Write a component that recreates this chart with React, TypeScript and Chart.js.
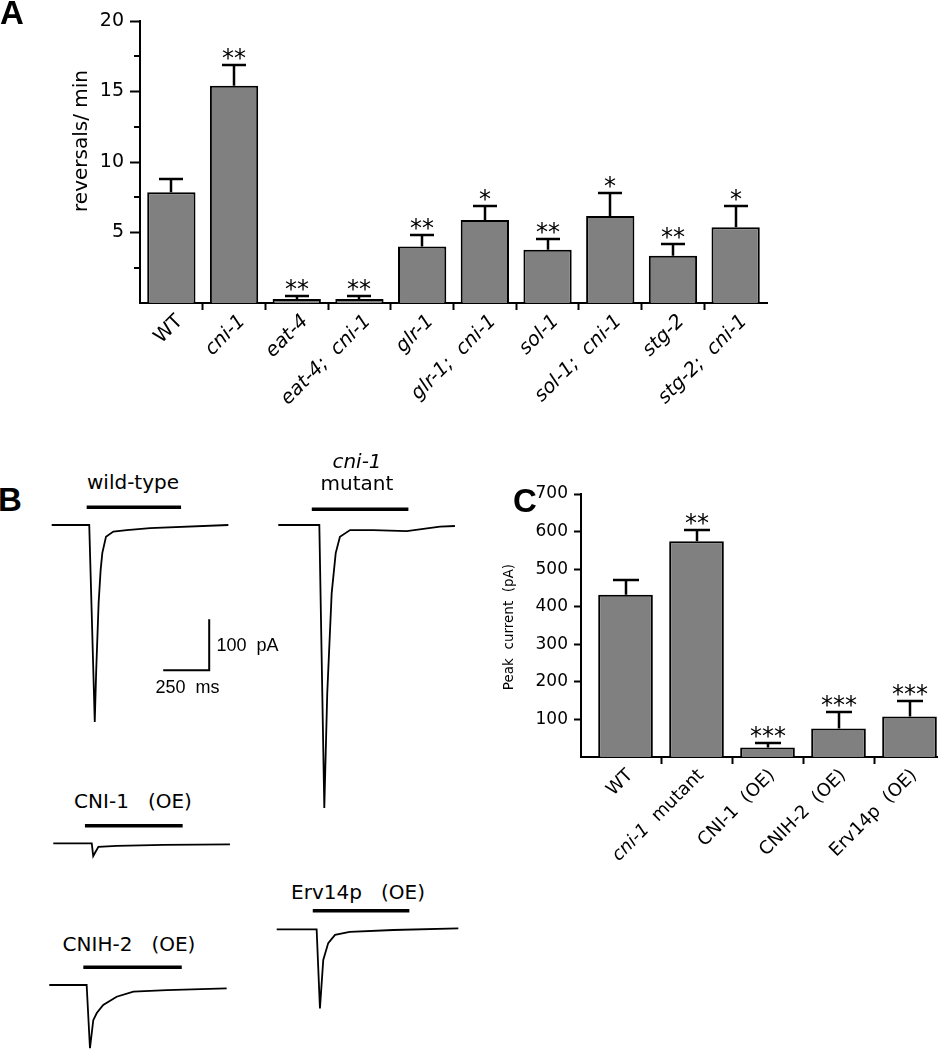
import React, { useEffect, useRef } from 'react';
import { Chart, registerables } from 'chart.js';

Chart.register(...registerables);

const SANS = '"DejaVu Sans", "Liberation Sans", Arial, sans-serif';
const HELV = '"Liberation Sans", Arial, Helvetica, sans-serif';
const BLACK = '#000000';
const BAR_GRAY = '#808080';
const CLEAR = 'rgba(0,0,0,0)';

// ---------------- Panel A: reversals / min ----------------
const A_LABELS = ['WT', 'cni-1', 'eat-4', 'eat-4;  cni-1', 'glr-1', 'glr-1;  cni-1', 'sol-1', 'sol-1;  cni-1', 'stg-2', 'stg-2;  cni-1'];
const A_LABEL_ITALIC = [false, true, true, true, true, true, true, true, true, true];
const A_MEANS = [7.85, 15.4, 0.28, 0.28, 4.0, 5.89, 3.78, 6.17, 3.35, 5.37];
const A_ERR_TOP = [8.8, 16.85, 0.47, 0.47, 4.8, 6.88, 4.54, 7.82, 4.16, 6.88];
const A_STARS = ['', '**', '**', '**', '**', '*', '**', '*', '**', '*'];
const A_Y_TICKS = [5, 10, 15, 20];
const A_Y_MINOR_TICKS = [2.5, 7.5, 12.5, 17.5];
const A_Y_TITLE = 'reversals/ min';

// ---------------- Panel C: peak current ----------------
const C_LABEL_TEXT = ['WT', 'cni-1', 'CNI-1  (OE)', 'CNIH-2  (OE)', 'Erv14p  (OE)'];
const C_LABEL_SUFFIX = ['', '  mutant', '', '', ''];
const C_LABEL_ITALIC = [false, true, false, false, false];
const C_MEANS = [432, 574, 25.5, 76, 108];
const C_ERR_TOP = [470, 603, 38, 120, 150];
const C_STARS = ['', '**', '***', '***', '***'];
const C_Y_TICKS = [100, 200, 300, 400, 500, 600, 700];
const C_Y_TITLE = 'Peak  current  (pA)';

// ---------------- Panel B: current traces (time ms, current pA) ----------------
const WT_T = [0, 204, 234, 242, 255, 266, 275, 295, 335, 408, 534, 960];
const WT_I = [0, 0, -386, -284, -153, -88, -55, -23, -13, -10, -6, 0];
const WT_STIM_T = [190, 703];
const WT_STIM_I = [35, 35];

const CNI1_MUT_T = [0, 223, 250, 266, 290, 312, 335, 390, 516, 698, 879, 960];
const CNI1_MUT_I = [0, 0, -555, -330, -134, -55, -23, -10, -10, -12, -3, -2];
const CNI1_MUT_STIM_T = [182, 707];
const CNI1_MUT_STIM_I = [31, 31];

const CNI1_OE_T = [0, 209, 217, 245, 345, 600, 960];
const CNI1_OE_I = [0, 0, -25, -7, -5, -3, -2];
const CNI1_OE_STIM_T = [172, 703];
const CNI1_OE_STIM_I = [34.5, 34.5];

const CNIH2_OE_T = [0, 203, 221, 239, 258, 293, 366, 457, 638, 964];
const CNIH2_OE_I = [0, 0, -124, -69, -55, -39, -23, -13, -10, -6.5];
const CNIH2_OE_STIM_T = [185, 720];
const CNIH2_OE_STIM_I = [35, 35];

const ERV14_OE_T = [0, 217, 235, 253, 280, 317, 397, 634, 987];
const ERV14_OE_I = [0, 0, -155, -60, -27, -11, -5, -1.4, 2];
const ERV14_OE_STIM_T = [196, 721];
const ERV14_OE_STIM_I = [36.5, 36.5];

const SCALE_BAR_T = [606, 856, 856];
const SCALE_BAR_I = [-285, -285, -185];

const PX_PER_MS = 0.184;
const PX_PER_PA = 0.51;

// ---------------- plugin: error bars, stars, rotated labels, y title ----------------
const annotPlugin: any = {
  id: 'annot',
  afterDatasetsDraw(chart: any, _args: any, o: any) {
    if (!o || !o.errTop) return;
    const ctx = chart.ctx;
    const x = chart.scales.x;
    const y = chart.scales.y;
    const meta = chart.getDatasetMeta(0);
    ctx.save();
    ctx.strokeStyle = BLACK;
    ctx.fillStyle = BLACK;
    ctx.lineWidth = o.errWidth;
    ctx.lineCap = 'butt';
    meta.data.forEach((bar: any, i: number) => {
      const top = Math.round(y.getPixelForValue(o.errTop[i]));
      const bx = Math.round(bar.x);
      ctx.beginPath();
      ctx.moveTo(bx, bar.y);
      ctx.lineTo(bx, top);
      ctx.moveTo(bx - o.capHalf, top);
      ctx.lineTo(bx + o.capHalf, top);
      ctx.stroke();
      if (o.stars[i]) {
        ctx.font = `${o.starSize}px ${SANS}`;
        ctx.textAlign = 'center';
        ctx.textBaseline = 'alphabetic';
        ctx.fillText(o.stars[i], bx, top + o.starDy);
      }
    });
    // minor y ticks
    ctx.lineWidth = 2;
    (o.minorTicks || []).forEach((v: number) => {
      const py = Math.round(y.getPixelForValue(v));
      ctx.beginPath();
      ctx.moveTo(x.left - o.minorLen, py);
      ctx.lineTo(x.left, py);
      ctx.stroke();
    });
    // rotated category labels
    o.labels.forEach((txt: string, i: number) => {
      const px = x.getPixelForValue(i) + o.labelDx;
      const py = x.top + o.labelDy;
      const parts: [string, boolean][] = [[txt, o.italic[i]]];
      if (o.suffix && o.suffix[i]) parts.push([o.suffix[i], false]);
      ctx.save();
      ctx.translate(px, py);
      ctx.rotate(-Math.PI / 4);
      ctx.textAlign = 'left';
      ctx.textBaseline = 'alphabetic';
      const fonts = parts.map((p) => `${p[1] ? 'italic ' : ''}${o.labelSize}px ${SANS}`);
      const widths = parts.map((p, k) => {
        ctx.font = fonts[k];
        return ctx.measureText(p[0]).width;
      });
      let cx = -widths.reduce((a, b) => a + b, 0);
      parts.forEach((p, k) => {
        ctx.font = fonts[k];
        ctx.fillText(p[0], cx, 0);
        cx += widths[k];
      });
      ctx.restore();
    });
    // y title
    ctx.save();
    ctx.translate(o.titleX, o.titleY);
    ctx.rotate(-Math.PI / 2);
    ctx.textAlign = 'center';
    ctx.textBaseline = 'alphabetic';
    ctx.font = `${o.titleSize}px ${SANS}`;
    ctx.fillText(o.title, 0, 0);
    ctx.restore();
    ctx.restore();
  },
};

const edgeTick = (c: any) => (c.index > 0 ? BLACK : CLEAR);

function makeA() {
  return {
    type: 'bar',
    data: {
      labels: A_LABELS,
      datasets: [
        {
          data: A_MEANS,
          backgroundColor: BAR_GRAY,
          borderColor: BLACK,
          borderWidth: 2,
          barPercentage: 0.77,
          categoryPercentage: 1,
        },
      ],
    },
    options: {
      responsive: false,
      animation: false,
      devicePixelRatio: 1,
      layout: { padding: { top: 21, right: 33, left: 0, bottom: 0 }, autoPadding: false },
      plugins: {
        legend: { display: false },
        tooltip: { enabled: false },
        annot: {
          errTop: A_ERR_TOP,
          stars: A_STARS,
          errWidth: 2.5,
          capHalf: 12,
          starSize: 24,
          starDy: 1,
          minorTicks: A_Y_MINOR_TICKS,
          minorLen: 6,
          labels: A_LABELS,
          italic: A_LABEL_ITALIC,
          labelSize: 19.5,
          labelDx: 12,
          labelDy: 19,
          title: A_Y_TITLE,
          titleX: 87,
          titleY: 141,
          titleSize: 20,
        },
      },
      scales: {
        x: {
          grid: { offset: true, drawOnChartArea: false, drawTicks: true, tickLength: 7, tickWidth: 2, color: edgeTick, tickColor: edgeTick },
          border: { display: true, color: BLACK, width: 2 },
          ticks: { display: false },
          afterFit: (s: any) => {
            s.height = 167;
          },
        },
        y: {
          min: 0,
          max: 20,
          afterBuildTicks: (s: any) => {
            s.ticks = A_Y_TICKS.map((v) => ({ value: v }));
          },
          grid: { drawOnChartArea: false, drawTicks: true, tickLength: 10, tickWidth: 2, color: BLACK, tickColor: BLACK },
          border: { display: true, color: BLACK, width: 2 },
          ticks: { color: BLACK, padding: 6, font: { family: SANS, size: 19 } },
          afterFit: (s: any) => {
            s.width = 140;
          },
        },
      },
    },
    plugins: [annotPlugin],
  };
}

function makeC() {
  return {
    type: 'bar',
    data: {
      datasets: [
        {
          data: C_MEANS.map((v, i) => ({ x: i, y: v })),
          backgroundColor: BAR_GRAY,
          borderColor: BLACK,
          borderWidth: 2,
          barPercentage: 0.77,
          categoryPercentage: 1,
        },
      ],
    },
    options: {
      responsive: false,
      animation: false,
      devicePixelRatio: 1,
      layout: { padding: { top: 24, right: 1, left: 0, bottom: 0 }, autoPadding: false },
      plugins: {
        legend: { display: false },
        tooltip: { enabled: false },
        annot: {
          errTop: C_ERR_TOP,
          stars: C_STARS,
          errWidth: 2.5,
          capHalf: 13,
          starSize: 24,
          starDy: 1,
          minorTicks: [],
          minorLen: 0,
          labels: C_LABEL_TEXT,
          suffix: C_LABEL_SUFFIX,
          italic: C_LABEL_ITALIC,
          labelSize: 18,
          labelDx: 8,
          labelDy: 19,
          title: C_Y_TITLE,
          titleX: 13,
          titleY: 157,
          titleSize: 13.5,
        },
      },
      scales: {
        x: {
          type: 'linear',
          min: -0.627,
          max: 4.5,
          offset: false,
          afterBuildTicks: (s: any) => {
            s.ticks = C_MEANS.map((_v, i) => ({ value: i }));
          },
          grid: { offset: true, drawOnChartArea: false, drawTicks: true, tickLength: 7, tickWidth: 2, color: edgeTick, tickColor: edgeTick },
          border: { display: true, color: BLACK, width: 2 },
          ticks: { display: false },
          afterFit: (s: any) => {
            s.height = 143;
          },
        },
        y: {
          min: 0,
          max: 700,
          afterBuildTicks: (s: any) => {
            s.ticks = C_Y_TICKS.map((v) => ({ value: v }));
          },
          grid: { drawOnChartArea: false, drawTicks: true, tickLength: 7, tickWidth: 2, color: BLACK, tickColor: BLACK },
          border: { display: true, color: BLACK, width: 2 },
          ticks: { color: BLACK, padding: 6, font: { family: SANS, size: 17 } },
          afterFit: (s: any) => {
            s.width = 81;
          },
        },
      },
    },
    plugins: [annotPlugin],
  };
}

function ChartCanvas({ left, top, width, height, make }: any) {
  const ref = useRef<HTMLCanvasElement>(null);
  useEffect(() => {
    const chart = new Chart(ref.current as HTMLCanvasElement, make());
    return () => chart.destroy();
  }, []);
  return (
    <canvas
      ref={ref}
      width={width}
      height={height}
      style={{ position: 'absolute', left, top, width, height, display: 'block' }}
    />
  );
}

type Series = { t: number[]; i: number[]; w: number };

function Trace({ ox, oy, series }: { ox: number; oy: number; series: Series[] }) {
  const allT = series.flatMap((s) => s.t);
  const allI = series.flatMap((s) => s.i);
  const left = Math.floor(ox + (Math.min(...allT) - 15) * PX_PER_MS);
  const right = Math.ceil(ox + (Math.max(...allT) + 15) * PX_PER_MS);
  const top = Math.floor(oy - (Math.max(...allI) + 12) * PX_PER_PA);
  const bottom = Math.ceil(oy - (Math.min(...allI) - 12) * PX_PER_PA);
  const xmin = (left - ox) / PX_PER_MS;
  const xmax = (right - ox) / PX_PER_MS;
  const ymax = (oy - top) / PX_PER_PA;
  const ymin = (oy - bottom) / PX_PER_PA;
  const make = () => ({
    type: 'line',
    data: {
      datasets: series.map((s) => ({
        data: s.t.map((t, k) => ({ x: t, y: s.i[k] })),
        borderColor: BLACK,
        borderWidth: s.w,
        pointRadius: 0,
        tension: 0,
        fill: false,
        borderCapStyle: 'butt',
        borderJoinStyle: 'miter',
        clip: false,
      })),
    },
    options: {
      responsive: false,
      animation: false,
      devicePixelRatio: 1,
      layout: { padding: 0, autoPadding: false },
      plugins: { legend: { display: false }, tooltip: { enabled: false } },
      scales: {
        x: { type: 'linear', display: false, min: xmin, max: xmax },
        y: { type: 'linear', display: false, min: ymin, max: ymax },
      },
    },
  });
  return <ChartCanvas left={left} top={top} width={right - left} height={bottom - top} make={make} />;
}

function Txt({ x, y, size, children, italic, bold, family }: any) {
  return (
    <div
      style={{
        position: 'absolute',
        left: x,
        top: y,
        transform: 'translate(-50%, -50%)',
        fontFamily: family || SANS,
        fontSize: size,
        fontStyle: italic ? 'italic' : 'normal',
        fontWeight: bold ? 'bold' : 'normal',
        lineHeight: 1,
        whiteSpace: 'pre',
        color: BLACK,
      }}
    >
      {children}
    </div>
  );
}

const TRACE_W = 1.8;
const STIM_W = 3.5;

export default function App() {
  return (
    <div
      style={{
        position: 'absolute',
        left: 0,
        top: 0,
        width: 938,
        height: 1050,
        overflow: 'hidden',
        background: '#ffffff',
      }}
    >
      <ChartCanvas left={0} top={0} width={800} height={470} make={makeA} />
      <ChartCanvas left={500} top={470} width={446} height={430} make={makeC} />

      <Trace
        ox={51.7}
        oy={525}
        series={[
          { t: WT_T, i: WT_I, w: TRACE_W },
          { t: WT_STIM_T, i: WT_STIM_I, w: STIM_W },
          { t: SCALE_BAR_T, i: SCALE_BAR_I, w: 2 },
        ]}
      />
      <Trace
        ox={278.3}
        oy={525}
        series={[
          { t: CNI1_MUT_T, i: CNI1_MUT_I, w: TRACE_W },
          { t: CNI1_MUT_STIM_T, i: CNI1_MUT_STIM_I, w: STIM_W },
        ]}
      />
      <Trace
        ox={53.3}
        oy={843.3}
        series={[
          { t: CNI1_OE_T, i: CNI1_OE_I, w: TRACE_W },
          { t: CNI1_OE_STIM_T, i: CNI1_OE_STIM_I, w: STIM_W },
        ]}
      />
      <Trace
        ox={49.3}
        oy={985}
        series={[
          { t: CNIH2_OE_T, i: CNIH2_OE_I, w: TRACE_W },
          { t: CNIH2_OE_STIM_T, i: CNIH2_OE_STIM_I, w: STIM_W },
        ]}
      />
      <Trace
        ox={276.7}
        oy={929.3}
        series={[
          { t: ERV14_OE_T, i: ERV14_OE_I, w: TRACE_W },
          { t: ERV14_OE_STIM_T, i: ERV14_OE_STIM_I, w: STIM_W },
        ]}
      />

      <Txt x={12} y={12} size={33} bold family={HELV}>A</Txt>
      <Txt x={10} y={499} size={33} bold family={HELV}>B</Txt>
      <Txt x={525} y={500} size={33} bold family={HELV}>C</Txt>

      <Txt x={133} y={482} size={20}>wild-type</Txt>
      <Txt x={357} y={461} size={20} italic>cni-1</Txt>
      <Txt x={357} y={483} size={20}>mutant</Txt>
      <Txt x={247.5} y={645} size={18} family={HELV}>{'100  pA'}</Txt>
      <Txt x={187.5} y={686.7} size={18} family={HELV}>{'250  ms'}</Txt>
      <Txt x={133} y={801} size={20}>{'CNI-1   (OE)'}</Txt>
      <Txt x={129} y={944} size={20}>{'CNIH-2   (OE)'}</Txt>
      <Txt x={358} y={891.7} size={20}>{'Erv14p   (OE)'}</Txt>
    </div>
  );
}
